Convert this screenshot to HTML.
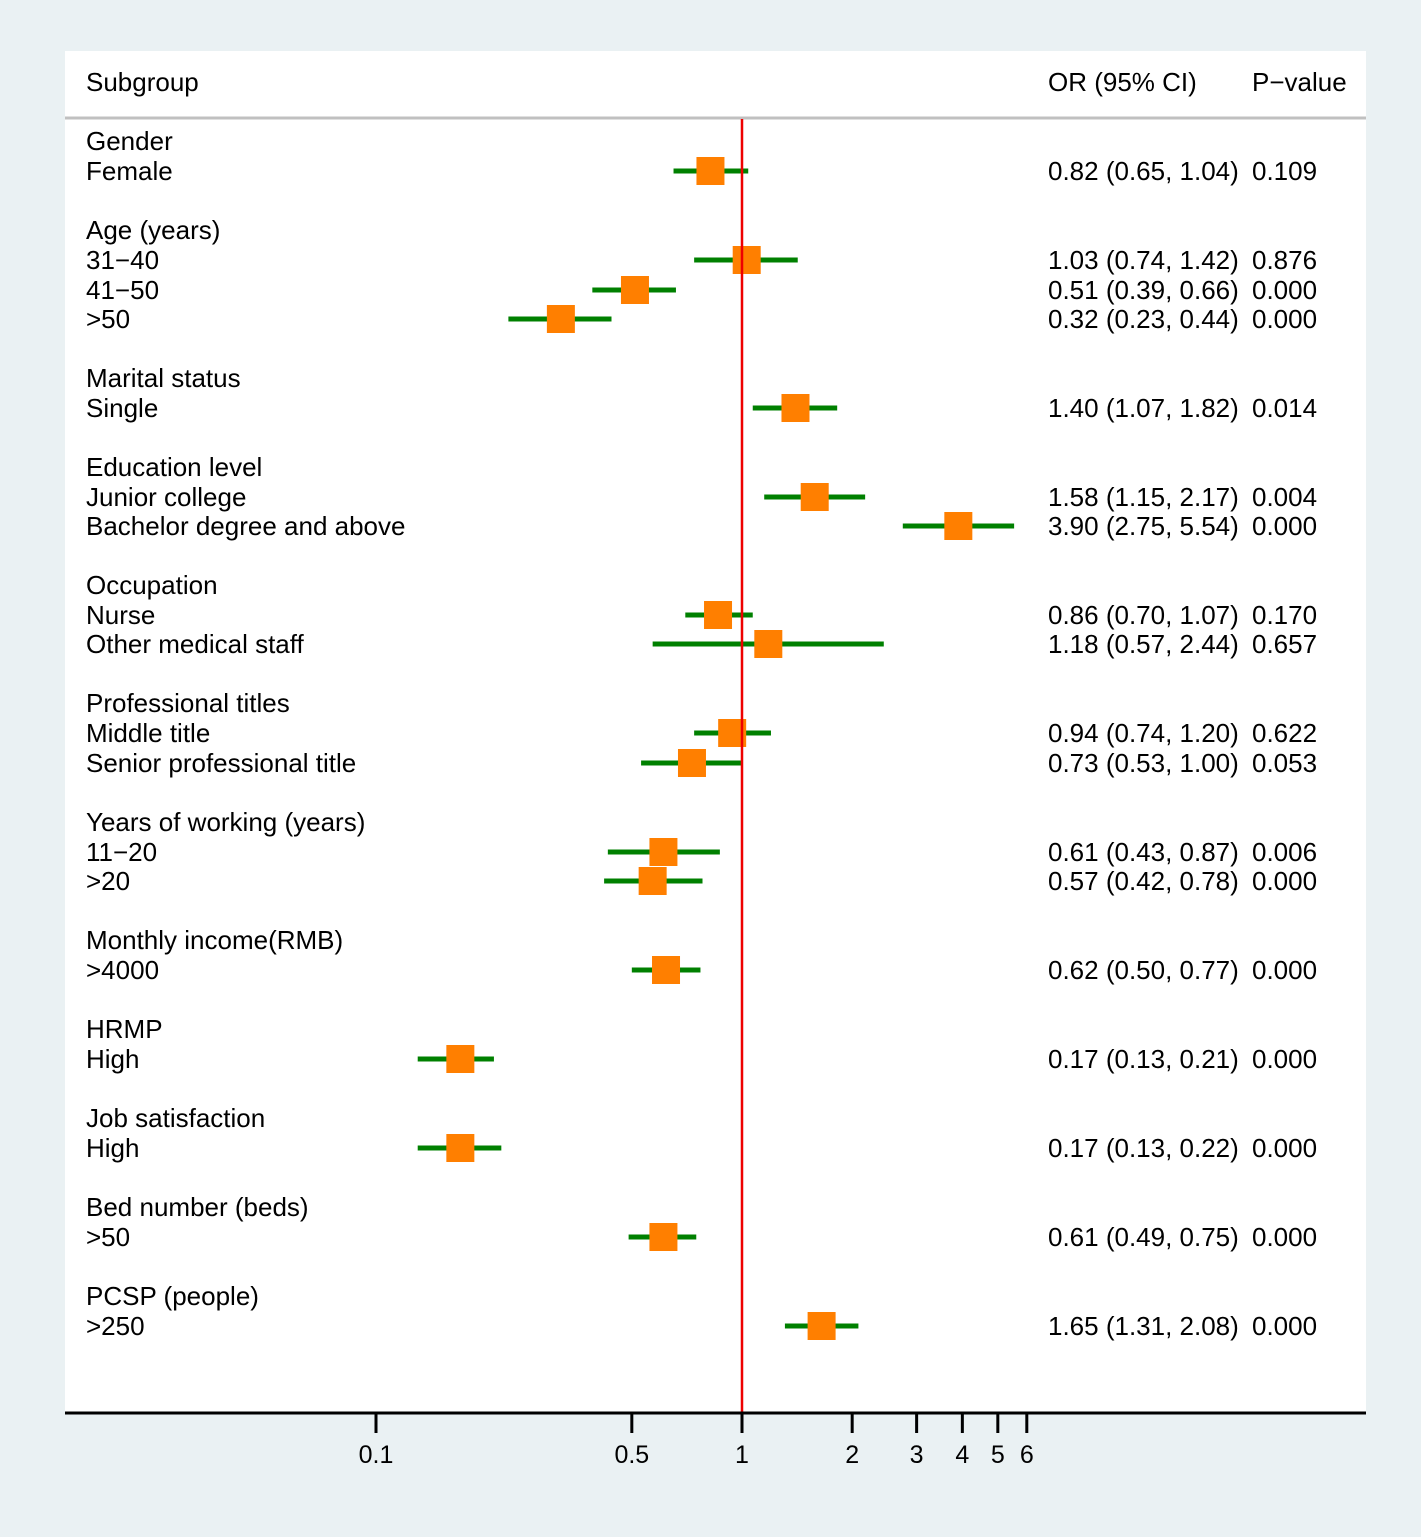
<!DOCTYPE html>
<html><head><meta charset="utf-8"><style>
html,body{margin:0;padding:0;background:#eaf1f3;}
svg{display:block;font-family:"Liberation Sans",sans-serif;}
</style></head><body>
<svg id="c" width="1421" height="1537">
<rect x="65" y="51" width="1301" height="1362" fill="#fff"/>
<text x="86" y="91" font-size="26">Subgroup</text>
<text x="1048" y="91" font-size="26">OR (95% CI)</text>
<text x="1252" y="91" font-size="26">P−value</text>
<line x1="65" x2="1366" y1="118" y2="118" stroke="#c0c0c0" stroke-width="3"/>
<g id="rows"></g>
<line x1="742" x2="742" y1="119" y2="1413" stroke="#e00" stroke-width="2.5"/>
<line x1="65" x2="1366" y1="1413" y2="1413" stroke="#000" stroke-width="3"/>
<g id="axis"></g>
</svg>
<script>
const labels=["Gender","Female","Age (years)","31−40","41−50",">50","Marital status","Single","Education level","Junior college","Bachelor degree and above","Occupation","Nurse","Other medical staff","Professional titles","Middle title","Senior professional title","Years of working (years)","11−20",">20","Monthly income(RMB)",">4000","HRMP","High","Job satisfaction","High","Bed number (beds)",">50","PCSP (people)",">250"];
const rowY=[141,171,230,260,290,319,378,408,467,497,526,585,615,644,703,733,763,822,852,881,940,970,1029,1059,1118,1148,1207,1237,1296,1326];
const orVals=[null,0.82,null,1.03,0.51,0.32,null,1.40,null,1.58,3.90,null,0.86,1.18,null,0.94,0.73,null,0.61,0.57,null,0.62,null,0.17,null,0.17,null,0.61,null,1.65];
const loVals=[null,0.65,null,0.74,0.39,0.23,null,1.07,null,1.15,2.75,null,0.70,0.57,null,0.74,0.53,null,0.43,0.42,null,0.50,null,0.13,null,0.13,null,0.49,null,1.31];
const hiVals=[null,1.04,null,1.42,0.66,0.44,null,1.82,null,2.17,5.54,null,1.07,2.44,null,1.20,1.00,null,0.87,0.78,null,0.77,null,0.21,null,0.22,null,0.75,null,2.08];
const pVals=[null,"0.109",null,"0.876","0.000","0.000",null,"0.014",null,"0.004","0.000",null,"0.170","0.657",null,"0.622","0.053",null,"0.006","0.000",null,"0.000",null,"0.000",null,"0.000",null,"0.000",null,"0.000"];
const ticks=[0.1,0.5,1,2,3,4,5,6];
const tickLabels=["0.1","0.5","1","2","3","4","5","6"];
const NS="http://www.w3.org/2000/svg";
const xs=v=>742+366*Math.log10(v);
function mk(t,a,p){const e=document.createElementNS(NS,t);for(const k in a)e.setAttribute(k,a[k]);p.appendChild(e);return e;}
const rows=document.getElementById('rows');
labels.forEach((l,i)=>{
  const y=rowY[i];
  const t=mk('text',{x:86,y:y+9,'font-size':26},rows);t.textContent=l;
  
  
  if(orVals[i]!=null){
    const ln=mk('line',{x1:xs(loVals[i]),x2:xs(hiVals[i]),y1:y,y2:y,stroke:'#008000','stroke-width':5},rows);
    
    
    const r=mk('rect',{x:xs(orVals[i])-14,y:y-14,width:28,height:28,fill:'#ff7f00'},rows);
    
    
    const ct=mk('text',{x:1048,y:y+9,'font-size':26},rows);
    ct.textContent=orVals[i].toFixed(2)+" ("+loVals[i].toFixed(2)+", "+hiVals[i].toFixed(2)+")";
    
    
    const pt=mk('text',{x:1252,y:y+9,'font-size':26},rows);pt.textContent=pVals[i];
    
    
  }
});
const ax=document.getElementById('axis');
ticks.forEach((v,i)=>{
  const x=xs(v);
  const tk=mk('line',{x1:x,x2:x,y1:1413,y2:1433,stroke:'#000','stroke-width':3},ax);
  
  
  const tl=mk('text',{x:x,y:1463,'font-size':25,'text-anchor':'middle'},ax);tl.textContent=tickLabels[i];
  
  
});
</script>
</body></html>
